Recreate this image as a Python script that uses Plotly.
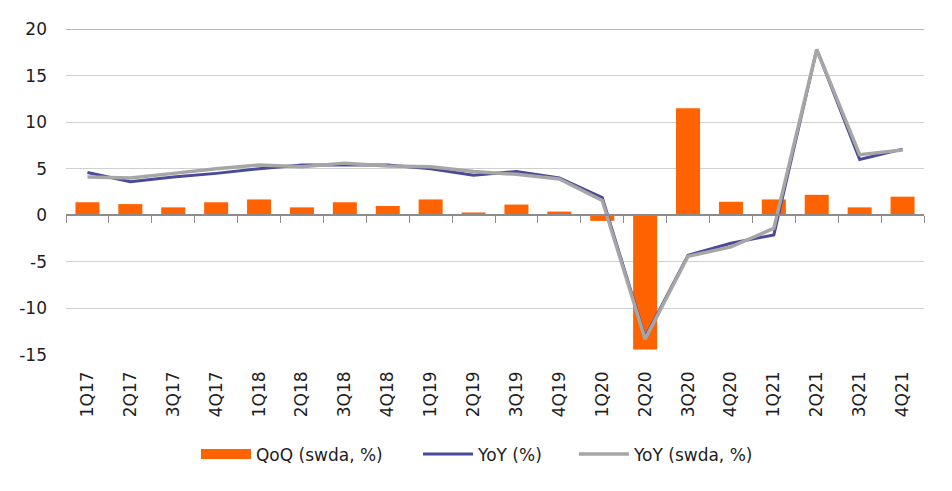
import plotly.graph_objects as go

quarters = ["1Q17", "2Q17", "3Q17", "4Q17", "1Q18", "2Q18", "3Q18", "4Q18",
            "1Q19", "2Q19", "3Q19", "4Q19", "1Q20", "2Q20", "3Q20", "4Q20",
            "1Q21", "2Q21", "3Q21", "4Q21"]
qoq_swda = [1.4, 1.2, 0.85, 1.4, 1.7, 0.85, 1.4, 1.0, 1.7, 0.3, 1.15, 0.4,
            -0.6, -14.4, 11.5, 1.45, 1.7, 2.2, 0.85, 2.0]
yoy = [4.6, 3.6, 4.1, 4.5, 5.0, 5.4, 5.4, 5.4, 5.0, 4.3, 4.7, 4.0,
       1.9, -13.1, -4.3, -3.0, -2.1, 17.8, 6.0, 7.1]
yoy_swda = [4.1, 4.0, 4.5, 5.0, 5.4, 5.2, 5.6, 5.3, 5.2, 4.7, 4.4, 3.9,
            1.6, -13.3, -4.4, -3.4, -1.4, 17.8, 6.5, 7.0]
y_ticks = [-15, -10, -5, 0, 5, 10, 15, 20]
y_tick_text = [str(v) for v in y_ticks]

FONT = "DejaVu Sans"
TXT = "#1e1e1e"
ORANGE = "#FF6200"
n = len(quarters)
fig = go.Figure()
fig.add_trace(go.Bar(x=quarters, y=qoq_swda, name="QoQ (swda, %)", showlegend=False,
                     marker=dict(color=ORANGE, line=dict(width=0))))
# legend stand-in giving the bar series a wide rectangular swatch
fig.add_trace(go.Scatter(x=[None], y=[None], name="QoQ (swda, %)", mode="lines",
                         legend="legend", line=dict(color=ORANGE, width=13),
                         hoverinfo="skip"))
fig.add_trace(go.Scatter(x=quarters, y=yoy, name="YoY (%)", mode="lines", legend="legend2",
                         line=dict(color="#4B4A98", width=3)))
fig.add_trace(go.Scatter(x=quarters, y=yoy_swda, name="YoY (swda, %)", mode="lines",
                         legend="legend3", line=dict(color="#A6A6A6", width=3.5)))
# transparent helper trace carrying the zero-line axis with boundary tick marks
fig.add_trace(go.Scatter(x=list(range(n)), y=yoy, xaxis="x2", mode="markers",
                         marker=dict(opacity=0), showlegend=False, hoverinfo="skip"))


def legend_at(x):
    return dict(orientation="h", x=x, xanchor="left", y=-0.25, yanchor="top",
                font=dict(size=17, color=TXT), itemwidth=50,
                bgcolor="rgba(0,0,0,0)")


fig.update_layout(
    width=952, height=491,
    margin=dict(l=58, r=36, t=21, b=144),
    plot_bgcolor="white", paper_bgcolor="white",
    font=dict(family=FONT, size=17, color=TXT),
    bargap=0.44,
    xaxis=dict(type="category", categoryorder="array", categoryarray=quarters,
               range=[-0.5, n - 0.5], automargin=False,
               tickangle=-90, showgrid=False, showline=False, ticks="",
               zeroline=False, ticklabelstandoff=12,
               tickfont=dict(size=17, color=TXT)),
    xaxis2=dict(type="linear", range=[-0.5, n - 0.5],
                tickvals=[i - 0.5 for i in range(n + 1)],
                overlaying="x", anchor="free", position=15 / 35, side="bottom",
                showline=True, linecolor="#8c8c8c", linewidth=1.5,
                ticks="outside", ticklen=7, tickcolor="#8c8c8c", tickwidth=1,
                showticklabels=False, showgrid=False, zeroline=False,
                automargin=False),
    yaxis=dict(range=[-15, 20], tickvals=y_ticks, ticktext=y_tick_text,
               showgrid=True, automargin=False,
               gridcolor="#d0d0d0", gridwidth=1, zeroline=False,
               showline=False, ticks="", ticklabelstandoff=18,
               tickfont=dict(size=17, color=TXT)),
    legend=legend_at(0.1515),
    legend2=legend_at(0.4103),
    legend3=legend_at(0.592),
    showlegend=True,
)
fig.add_hline(y=20, line=dict(color="#a0a0a0", width=1.5), layer="below")
fig.write_html("out.html")
